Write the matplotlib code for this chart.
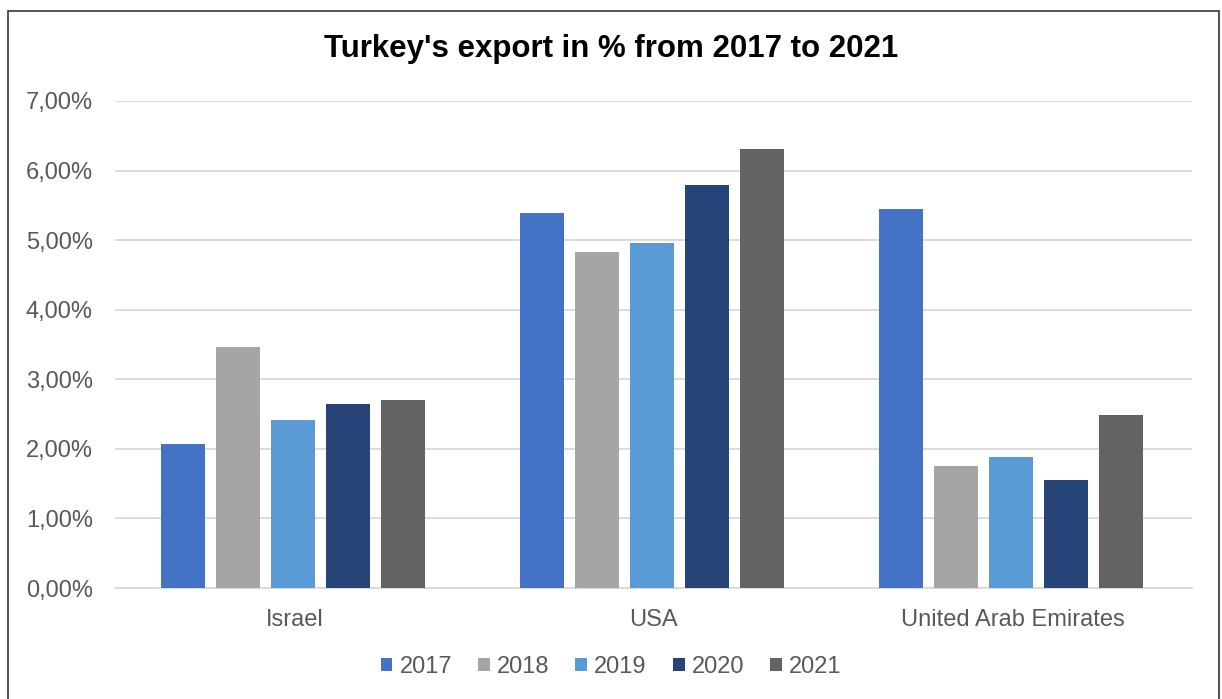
import matplotlib.pyplot as plt
import numpy as np
from matplotlib.patches import Rectangle

plt.rcParams['font.family'] = ['Liberation Sans', 'DejaVu Sans']

countries = ['Israel', 'USA', 'United Arab Emirates']
years = ['2017', '2018', '2019', '2020', '2021']
share = {
    '2017': [2.07, 5.39, 5.45],
    '2018': [3.46, 4.83, 1.75],
    '2019': [2.41, 4.96, 1.88],
    '2020': [2.64, 5.79, 1.55],
    '2021': [2.70, 6.31, 2.49],
}
colors = ['#4472C4', '#A5A5A5', '#5B9BD5', '#264478', '#636363']

fig = plt.figure(figsize=(12.22, 6.99), dpi=100)
ax = fig.add_axes([115 / 1222, 1 - 588 / 699, (1192 - 115) / 1222, (588 - 101) / 699])

x = np.arange(len(countries))
width = 0.1226
step = 0.153
for i, yr in enumerate(years):
    ax.bar(x + (i - 2) * step - 0.005, share[yr], width, color=colors[i], label=yr, zorder=3)

ax.set_xlim(-0.5, 2.5)
ax.set_ylim(0, 7)
ax.set_yticks(np.arange(0, 8, 1))
ax.set_yticklabels([f'{v},00%' for v in range(8)])
ax.set_xticks(x)
ax.set_xticklabels(countries)
ax.yaxis.grid(True, color='#D9D9D9', linewidth=1.3, zorder=0)
for s in ['top', 'right', 'left']:
    ax.spines[s].set_visible(False)
ax.spines['bottom'].set_color('#D9D9D9')
ax.spines['bottom'].set_linewidth(1.3)
ax.tick_params(axis='both', length=0, labelsize=17, labelcolor='#595959')
ax.tick_params(axis='y', pad=16)
ax.tick_params(axis='x', pad=15)

fig.text(0.5, 1 - 49 / 699, "Turkey's export in % from 2017 to 2021", ha='center', va='center',
         fontsize=22.5, fontweight='bold', color='black')

leg = fig.legend(loc='center', bbox_to_anchor=(0.5, 1 - 667 / 699), ncol=5, frameon=False,
                 fontsize=17, handlelength=0.5, handleheight=0.5, handletextpad=0.3, columnspacing=1.1)
for t in leg.get_texts():
    t.set_color('#595959')

fig.patches.append(Rectangle((8 / 1222, -0.05), (1219 - 8) / 1222, 1.05 - 11 / 699, transform=fig.transFigure,
                             fill=False, edgecolor='#333333', linewidth=1.2))

fig.savefig('out.png', dpi=100)
